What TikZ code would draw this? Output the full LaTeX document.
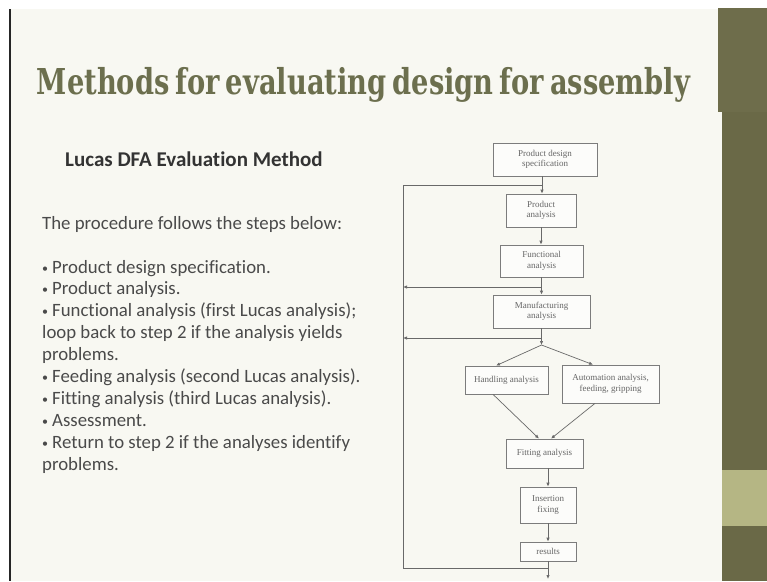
\documentclass[tikz,border=0pt]{standalone}
\usepackage{fontspec}
\usepackage{graphicx}
\setmainfont{Liberation Serif}
\newfontfamily\bodyfont[Ligatures=CommonOff]{Carlito}
\newfontfamily\titlefont{DejaVu Serif Condensed}
\usetikzlibrary{arrows.meta}

\definecolor{slidebg}{HTML}{F8F8F2}
\definecolor{barolive}{HTML}{6A6947}
\definecolor{bartop}{HTML}{6E6D4B}
\definecolor{barkhaki}{HTML}{B5B684}
\definecolor{titlecol}{HTML}{6C6F4E}
\definecolor{bodycol}{HTML}{4A4A4A}
\definecolor{headcol}{HTML}{333333}
\definecolor{boxline}{HTML}{7C7C7C}
\definecolor{boxtext}{HTML}{666666}

% small list bullet
\newcommand{\lbul}{{\fontsize{12}{12}\selectfont\raisebox{1pt}{•}}\hspace{4pt}}

\begin{document}
\begin{tikzpicture}[x=1pt,y=-1pt,
  flowbox/.style={draw=boxline, line width=0.7pt, fill=slidebg!40!white,
    inner sep=0pt, align=center, text=boxtext,
    font=\fontsize{9}{10.5}\selectfont},
  flowline/.style={draw=boxline!85!black, line width=0.7pt},
  flowarrow/.style={flowline, -{Latex[length=4pt,width=3.4pt]}},
  bodyline/.style={anchor=base west, inner sep=0pt, text=bodycol,
    font=\bodyfont\fontsize{18.8}{22}\selectfont},
]
\useasboundingbox (0,0) rectangle (767,581);

% slide background, left edge and right-hand bar
\fill[white] (0,0) rectangle (767,581);
\fill[slidebg] (11,9) rectangle (722,581);
\draw[line width=2pt, black!85] (10,9) -- (10,581);
\fill[bartop] (718,8) rectangle (767,112);
\fill[barolive] (722,112) rectangle (767,581);
\fill[barkhaki] (722,470) rectangle (767,526);

% title
\node[anchor=base, inner sep=0pt, text=titlecol] (title) at (363.5,94)
  {\resizebox*{653pt}{35pt}{\titlefont\bfseries\spaceskip=0.2em Methods for evaluating design for assembly}};

% left column text
\node[anchor=base west, inner sep=0pt, text=headcol,
  font=\bodyfont\bfseries\fontsize{21}{24}\selectfont] (sub) at (65,166)
  {Lucas DFA Evaluation Method};
\node[bodyline] (intro) at (42,229) {The procedure follows the steps below:};
\node[bodyline] (s1) at (42,273) {\lbul Product design specification.};
\node[bodyline] (s2) at (42,294.9) {\lbul Product analysis.};
\node[bodyline] (s3) at (42,316.8) {\lbul Functional analysis (first Lucas analysis);};
\node[bodyline] (s3b) at (42,338.7) {loop back to step 2 if the analysis yields};
\node[bodyline] (s3c) at (42,360.6) {problems.};
\node[bodyline] (s4) at (42,382.5) {\lbul Feeding analysis (second Lucas analysis).};
\node[bodyline] (s5) at (42,404.4) {\lbul Fitting analysis (third Lucas analysis).};
\node[bodyline] (s6) at (42,426.3) {\lbul Assessment.};
\node[bodyline] (s7) at (42,448.2) {\lbul Return to step 2 if the analyses identify};
\node[bodyline] (s7b) at (42,470.1) {problems.};

% flowchart boxes
\node[flowbox, minimum width=104pt, minimum height=33pt] (pds) at (545,159.5) {Product design\\specification};
\node[flowbox, minimum width=70pt, minimum height=33pt] (pa) at (541,210.5) {Product\\analysis};
\node[flowbox, minimum width=83pt, minimum height=32pt] (fa) at (541.5,261) {Functional\\analysis};
\node[flowbox, minimum width=97pt, minimum height=33pt] (ma) at (541.5,311.5) {Manufacturing\\analysis};
\node[flowbox, minimum width=83pt, minimum height=28pt] (ha) at (506.5,380) {Handling analysis};
\node[flowbox, minimum width=97pt, minimum height=38pt] (aa) at (610.5,384) {Automation analysis,\\feeding, gripping};
\node[flowbox, minimum width=77pt, minimum height=29pt] (fit) at (544.5,453.5) {Fitting analysis};
\node[flowbox, minimum width=56pt, minimum height=36pt] (ins) at (548,505) {Insertion\\fixing};
\node[flowbox, minimum width=56pt, minimum height=19pt] (res) at (548,551.5) {results};

% junction points of the feedback loop
\coordinate (topj) at (542,185);
\coordinate (loopTL) at (403,185);
\coordinate (loopBL) at (403,568);
\coordinate (botj) at (548,568);
\coordinate (exitpt) at (548,579);
\coordinate (fbj) at (541.5,287);
\coordinate (fbl) at (403,287);
\coordinate (mbj) at (541.5,338);
\coordinate (mbl) at (403,338);
\coordinate (split) at (541.5,345);

% connectors
\draw[flowarrow] (pds.south -| topj) -- (pa.north -| topj);
\draw[flowline] (topj) -- (loopTL) -- (loopBL) -- (botj);
\draw[flowarrow] (pa.south) -- (pa.south |- fa.north);
\draw[flowarrow] (fa.south) -- (fa.south |- ma.north);
\draw[flowarrow] (fbj) -- (fbl);
\draw[flowarrow] (ma.south) -- (split);
\draw[flowarrow] (mbj) -- (mbl);
\draw[flowarrow] (split) -- ([xshift=-10.5pt]ha.north);
\draw[flowarrow] (split) -- ([xshift=-17.5pt]aa.north);
\draw[flowarrow] ([xshift=-13.5pt]ha.south) -- ([xshift=-5.5pt]fit.north);
\draw[flowarrow] ([xshift=-15.5pt]aa.south) -- ([xshift=6.5pt]fit.north);
\draw[flowarrow] (fit.south -| ins.north) -- (ins.north);
\draw[flowarrow] (ins.south) -- (res.north);
\draw[flowline] (res.south) -- (botj);
\draw[flowarrow] (botj) -- (exitpt);
\end{tikzpicture}
\end{document}
